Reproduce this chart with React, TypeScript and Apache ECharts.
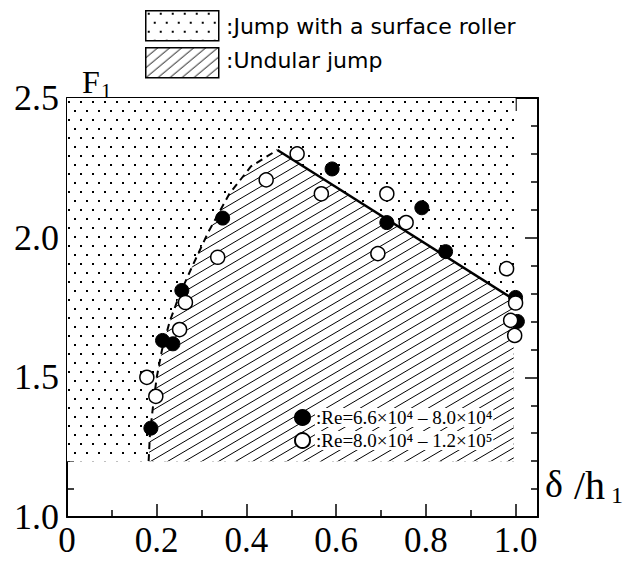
import React, { useEffect, useRef } from 'react';
import * as echarts from 'echarts';

// ---- data ----
const filledPoints: number[][] = [
  [0.187, 1.318], [0.213, 1.632], [0.236, 1.62], [0.256, 1.811], [0.347, 2.07],
  [0.591, 2.246], [0.713, 2.054], [0.791, 2.107], [0.844, 1.95], [1.0, 1.786], [1.004, 1.70],
];
const openPoints: number[][] = [
  [0.178, 1.50], [0.198, 1.432], [0.251, 1.671], [0.264, 1.768], [0.336, 1.93],
  [0.444, 2.207], [0.513, 2.30], [0.567, 2.157], [0.693, 1.943], [0.713, 2.157],
  [0.756, 2.054], [0.98, 1.889], [1.0, 1.766], [0.989, 1.704], [0.998, 1.65],
];
const dashedBoundary: number[][] = [
  [0.182, 1.2], [0.185, 1.30], [0.192, 1.40], [0.200, 1.50], [0.212, 1.60],
  [0.229, 1.70], [0.252, 1.80], [0.280, 1.90], [0.315, 2.02], [0.362, 2.157],
  [0.41, 2.255], [0.469, 2.314],
];
const solidBoundary: number[][] = [[0.469, 2.314], [0.99, 1.785]];
const rollerRegion: number[][] = [[0, 1.2], [1.0, 1.2], [1.0, 2.5], [0, 2.5]];
const undularRegion: number[][] = [...dashedBoundary, [0.99, 1.785], [0.996, 1.785], [0.996, 1.2]];
const xMajor = [0, 0.2, 0.4, 0.6, 0.8, 1.0];
const xMinor = [0.1, 0.3, 0.5, 0.7, 0.9];
const regionLabels = [':Jump with a surface roller', ':Undular jump'];
const seriesNames = [':Re=6.6×10⁴ – 8.0×10⁴', ':Re=8.0×10⁴ – 1.2×10⁵'];

const SERIF = "'Liberation Serif', 'DejaVu Serif', serif";
const SANS = "'DejaVu Sans', sans-serif";

function dotPattern() {
  const c = document.createElement('canvas');
  c.width = 24; c.height = 18;
  const g = c.getContext('2d')!;
  g.fillStyle = '#fff'; g.fillRect(0, 0, 24, 18);
  g.fillStyle = '#000';
  [[2, 2], [14, 2], [8, 11], [20, 11]].forEach(([x, y]) => g.fillRect(x, y, 2, 2));
  return { image: c, repeat: 'repeat', imageWidth: 24, imageHeight: 18 };
}

function hatchPattern(w: number, h: number, lw: number) {
  const c = document.createElement('canvas');
  c.width = w; c.height = h;
  const g = c.getContext('2d')!;
  g.fillStyle = '#fff'; g.fillRect(0, 0, w, h);
  g.strokeStyle = '#000'; g.lineWidth = lw;
  for (const off of [-h, 0, h]) {
    g.beginPath();
    g.moveTo(-w, 2 * h + off);
    g.lineTo(2 * w, -h + off);
    g.stroke();
  }
  return { image: c, repeat: 'repeat', imageWidth: w, imageHeight: h };
}

export default function App() {
  const ref = useRef<HTMLDivElement>(null);
  useEffect(() => {
    document.body.style.margin = '0';
    const chart = echarts.init(ref.current!, null, { renderer: 'svg' });
    const dots = dotPattern();
    const hatch = hatchPattern(17, 10, 1);
    const hatchLegend = hatchPattern(12, 10, 1);

    const regionSeries = (pts: number[][], fill: any, z: number) => ({
      type: 'custom',
      silent: true,
      z,
      data: [[0, 1.2]],
      renderItem: (_p: any, api: any) => ({
        type: 'polygon',
        shape: { points: pts.map((p) => api.coord(p)) },
        style: { fill, stroke: 'none' },
      }),
    });

    const xBase = {
      type: 'value', min: 0, max: 1.05, gridIndex: 0,
      splitLine: { show: false },
    };
    const yBase = {
      type: 'value', min: 1.0, max: 2.5, interval: 0.5,
      splitLine: { show: false },
      minorSplitLine: { show: false },
      axisLine: { show: true, onZero: false, lineStyle: { color: '#000', width: 2 } },
      axisTick: { show: true, inside: true, length: 13, lineStyle: { color: '#000', width: 1.5 } },
      minorTick: { show: true, splitNumber: 5, length: 7, lineStyle: { color: '#000', width: 1.5 } },
    };

    chart.setOption({
      animation: false,
      backgroundColor: '#fff',
      grid: { left: 67, top: 98, right: 88, bottom: 47, containLabel: false },
      xAxis: [
        {
          ...xBase, position: 'bottom',
          axisLine: { show: true, onZero: false, lineStyle: { color: '#000', width: 2 } },
          axisTick: { show: true, inside: true, length: 13, customValues: xMajor, lineStyle: { color: '#000', width: 1.5 } },
          axisLabel: {
            show: true, customValues: xMajor, margin: 6, color: '#000',
            fontFamily: SERIF, fontSize: 35,
            formatter: (v: number) => (v === 0 ? '0' : v.toFixed(1)),
          },
        },
        {
          ...xBase, position: 'bottom',
          axisLine: { show: false, onZero: false },
          axisTick: { show: true, inside: true, length: 7, customValues: xMinor, lineStyle: { color: '#000', width: 1.5 } },
          axisLabel: { show: false },
        },
        {
          ...xBase, position: 'top',
          axisLine: { show: true, onZero: false, lineStyle: { color: '#000', width: 2 } },
          axisTick: { show: true, inside: true, length: 13, customValues: xMajor, lineStyle: { color: '#000', width: 1.5 } },
          axisLabel: { show: false },
        },
        {
          ...xBase, position: 'top',
          axisLine: { show: false, onZero: false },
          axisTick: { show: true, inside: true, length: 7, customValues: xMinor, lineStyle: { color: '#000', width: 1.5 } },
          axisLabel: { show: false },
        },
      ],
      yAxis: [
        {
          ...yBase, position: 'left',
          axisLabel: {
            show: true, margin: 8, color: '#000', fontFamily: SERIF, fontSize: 36,
            formatter: (v: number) => v.toFixed(1),
          },
        },
        { ...yBase, position: 'right', axisLabel: { show: false } },
      ],
      legend: {
        data: seriesNames,
        orient: 'vertical',
        left: 289, top: 403,
        itemWidth: 15, itemHeight: 15, itemGap: 4,
        icon: 'circle',
        selectedMode: false,
        textStyle: {
          fontFamily: SERIF, fontSize: 19, color: '#000',
          backgroundColor: '#fff', padding: [0, 1],
        },
      },
      graphic: [
        { type: 'rect', left: 145, top: 10, shape: { width: 73, height: 30 }, style: { fill: dots as any, stroke: '#000', lineWidth: 1.5 } },
        { type: 'rect', left: 145, top: 47, shape: { width: 73, height: 30 }, style: { fill: hatchLegend as any, stroke: '#000', lineWidth: 1.5 } },
        { type: 'text', left: 226, top: 15, style: { text: regionLabels[0], fontFamily: SANS, fontSize: 22, fill: '#000' } },
        { type: 'text', left: 226, top: 49, style: { text: regionLabels[1], fontFamily: SANS, fontSize: 22, fill: '#000' } },
        { type: 'text', left: 82, top: 66, style: { text: 'F', fontFamily: SERIF, fontSize: 32, fill: '#000' } },
        { type: 'text', left: 101, top: 80, style: { text: '1', fontFamily: SERIF, fontSize: 21, fill: '#000' } },
        { type: 'text', left: 545, top: 465, style: { text: 'δ', fontFamily: SERIF, fontSize: 38, fill: '#000' } },
        { type: 'text', left: 574, top: 465, style: { text: '/h', fontFamily: SERIF, fontSize: 40, fill: '#000' } },
        { type: 'text', left: 611, top: 483, style: { text: '1', fontFamily: SERIF, fontSize: 24, fill: '#000' } },
      ],
      series: [
        regionSeries(rollerRegion, dots, 1),
        regionSeries(undularRegion, hatch, 2),
        {
          type: 'line', data: dashedBoundary, symbol: 'none', z: 3, silent: true,
          lineStyle: { color: '#000', width: 2, type: [7, 5] },
        },
        {
          type: 'line', data: solidBoundary, symbol: 'none', z: 3, silent: true,
          lineStyle: { color: '#000', width: 2.5 },
        },
        {
          name: seriesNames[0], type: 'scatter', data: filledPoints, z: 4,
          symbol: 'circle', symbolSize: 14,
          itemStyle: { color: '#000', borderColor: '#000', borderWidth: 1, opacity: 1 },
        },
        {
          name: seriesNames[1], type: 'scatter', data: openPoints, z: 5,
          symbol: 'circle', symbolSize: 14,
          itemStyle: { color: '#fff', borderColor: '#000', borderWidth: 1.5, opacity: 1 },
        },
      ],
    } as any);
    return () => chart.dispose();
  }, []);
  return <div ref={ref} style={{ position: 'fixed', left: 0, top: 0, width: 626, height: 564 }} />;
}
